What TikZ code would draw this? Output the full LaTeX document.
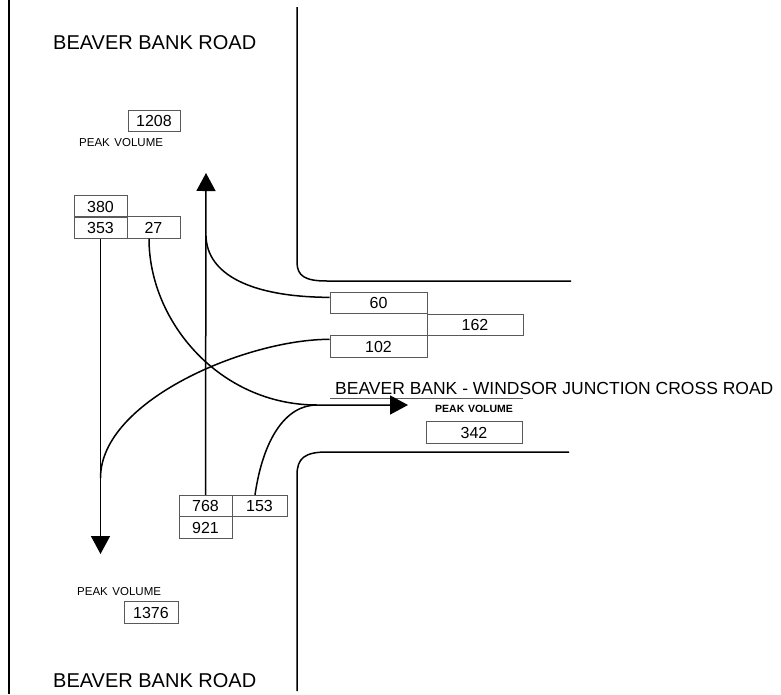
\documentclass[tikz,border=0pt]{standalone}
\usepackage{fontspec}
\setmainfont{Liberation Sans}
\usetikzlibrary{arrows.meta,calc}
\begin{document}
\begin{tikzpicture}[x=1pt,y=-1pt,
  road/.style={line width=1.5pt,black},
  flow/.style={line width=1.5pt,black},
  vbox/.style={draw=black!65,line width=0.8pt,inner sep=0pt,minimum height=21.5pt,font=\fontsize{16}{16}\selectfont},
  title/.style={anchor=west,inner sep=0pt,font=\fontsize{20}{20}\selectfont},
  peak/.style={anchor=west,inner sep=0pt,font=\fontsize{11.5}{11.5}\selectfont},
  peakb/.style={anchor=west,inner sep=0pt,font=\bfseries\fontsize{10.5}{10.5}\selectfont},
  head/.style={-{Triangle[length=18pt,width=19pt]}}
]
\useasboundingbox (0,0) rectangle (781,694);

% roads
\coordinate (l1) at (9,0);
\coordinate (l2) at (9,694);
\draw[road] (l1) -- (l2);
\coordinate (ru1) at (297,7);
\coordinate (ru2) at (297,262);
\coordinate (ru3) at (327,281);
\coordinate (ru4) at (571,281);
\draw[road] (ru1) -- (ru2) .. controls (297,276) and (305,281) .. (ru3) -- (ru4);
\coordinate (rl1) at (569,452);
\coordinate (rl2) at (327,452);
\coordinate (rl3) at (297,475);
\coordinate (rl4) at (297,691);
\draw[road] (rl1) -- (rl2) .. controls (305,452) and (297,458) .. (rl3) -- (rl4);

% titles
\node[title] (t1) at (53,43) {BEAVER BANK ROAD};
\node[title] (t2) at (53,681) {BEAVER BANK ROAD};
\node[anchor=west,inner sep=0pt,font=\fontsize{17.5}{17.5}\selectfont] (t3) at (335,388.5) {BEAVER BANK - WINDSOR JUNCTION CROSS ROAD};
\coordinate (ul1) at (330,398);
\coordinate (ul2) at (523,398);
\draw[black!65,line width=0.7pt] (ul1) -- (ul2);

\node[peak] (p1) at (79,142.5) {PEAK\hspace{0.4em}VOLUME};
\node[peak] (p2) at (77,592) {PEAK\hspace{0.4em}VOLUME};
\node[peakb] (p3) at (435,408.5) {PEAK\hspace{0.35em}VOLUME};

% boxes
\node[vbox,minimum width=52pt] (b1208) at (154,121) {1208};
\node[vbox,minimum width=53pt] (b380) at (100.5,206.5) {380};
\node[vbox,minimum width=53pt] (b353) at (100.5,227.5) {353};
\node[vbox,minimum width=53pt] (b27) at (153.5,227.5) {27};
\node[vbox,minimum width=97pt] (b60) at (378.5,303) {60};
\node[vbox,minimum width=96pt] (b162) at (475,325) {162};
\node[vbox,minimum width=97pt] (b102) at (378.5,346.5) {102};
\node[vbox,minimum width=96pt] (b342) at (474,432.5) {342};
\node[vbox,minimum width=53pt] (b768) at (205.5,506) {768};
\node[vbox,minimum width=55pt] (b153) at (259.5,506) {153};
\node[vbox,minimum width=53pt] (b921) at (205.5,527.5) {921};
\node[vbox,minimum width=54pt] (b1376) at (151,612.5) {1376};

% flows
\coordinate (tipUp) at (206,173);
\coordinate (tipDown) at (100.5,554);
\coordinate (tipRight) at (408,405);
\coordinate (jR) at (317,405);
\coordinate (j60) at (206,236);
\coordinate (j102) at (100.5,478);

\draw[flow,head] (b768.north) -- (tipUp);
\draw[flow,head] (b353.south) -- (tipDown);
\draw[flow] (j60) .. controls (207,274) and (250,297) .. ($(b60.north west)+(0,5.5)$);
\draw[flow] ($(b102.north west)+(0,4)$) .. controls (248,339) and (100.5,400) .. (j102);
\draw[flow,head] ([xshift=-4.5pt]b27.south) .. controls (149,322) and (220,405) .. (jR) -- (tipRight);
\draw[flow] ([xshift=-4.5pt]b153.north) .. controls (263,440) and (285,405) .. (jR);
\end{tikzpicture}
\end{document}
